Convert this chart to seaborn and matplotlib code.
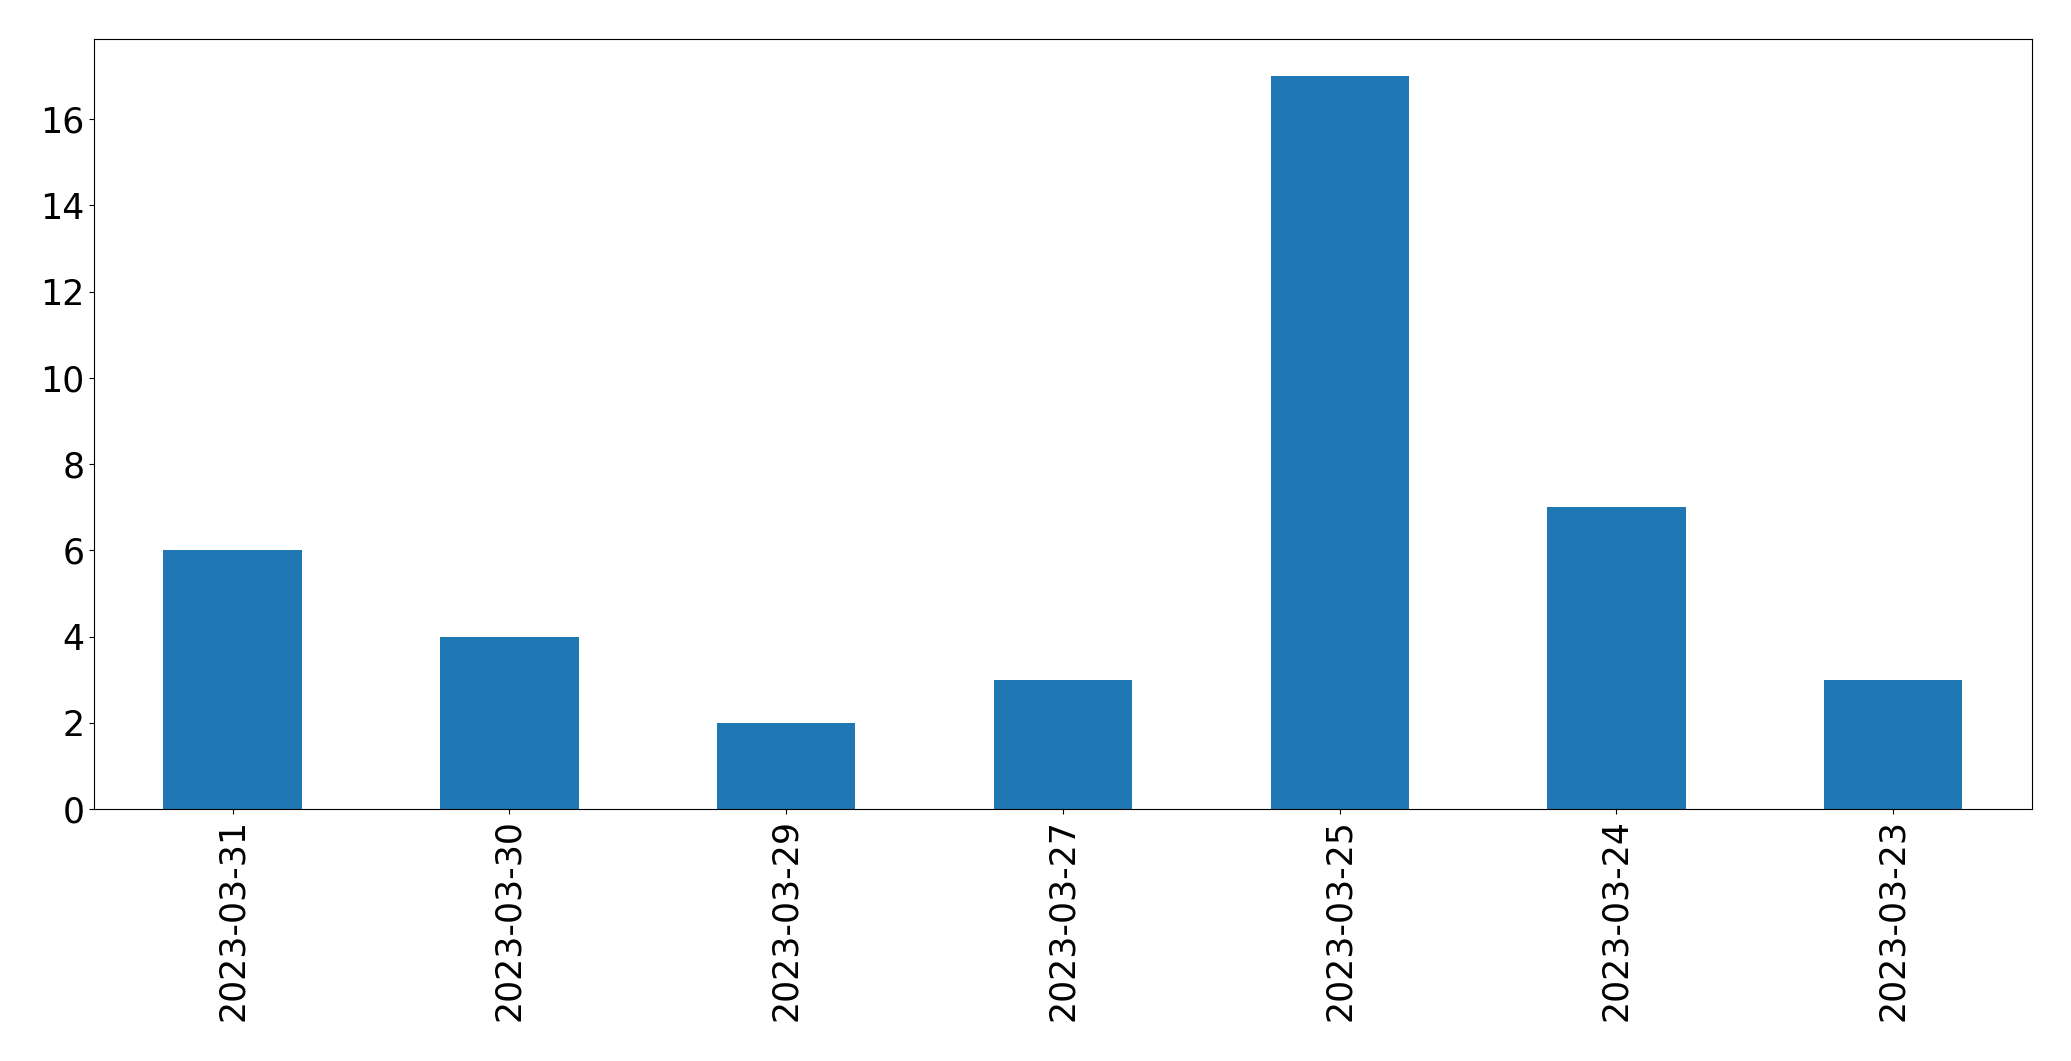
import matplotlib
matplotlib.use("Agg")
import matplotlib.pyplot as plt
import seaborn as sns

# Data
dates = ["2023-03-31", "2023-03-30", "2023-03-29", "2023-03-27",
         "2023-03-25", "2023-03-24", "2023-03-23"]
counts = [6, 4, 2, 3, 17, 7, 3]

fig, ax = plt.subplots(figsize=(20.71, 10.61), dpi=100)
sns.barplot(x=dates, y=counts, order=dates, color="#1f77b4",
            saturation=1, width=0.5, linewidth=0, ax=ax)

ax.set_xlim(-0.5, len(dates) - 0.5)
ax.set_ylim(0, max(counts) * 1.05)
ax.tick_params(axis="both", labelsize=25)
ax.tick_params(axis="x", labelrotation=90)
ax.set_xlabel("")
ax.set_ylabel("")

plt.subplots_adjust(left=0.0455, right=0.981, top=0.9628, bottom=0.2375)
plt.savefig("out.png", dpi=100)
